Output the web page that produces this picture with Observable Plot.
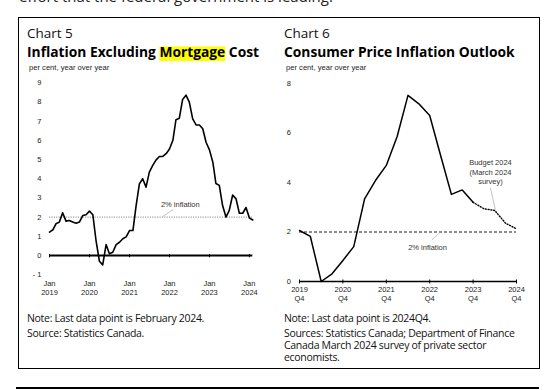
<!DOCTYPE html>
<html>
<head>
<meta charset="utf-8">
<script src="https://cdn.jsdelivr.net/npm/d3@7"></script>
<script src="https://cdn.jsdelivr.net/npm/@observablehq/plot@0.6"></script>
<style>
html,body{margin:0;padding:0;background:#fff;}
body{position:relative;width:553px;height:390px;overflow:hidden;}
#frame{position:absolute;left:18px;top:17px;width:522px;height:352px;border:1.5px solid #000;box-sizing:border-box;}
#rule{position:absolute;left:16px;top:387px;width:523px;height:1.5px;background:#000;}
#left{position:absolute;left:0;top:0;}
#right{position:absolute;left:275px;top:0;}
#overlay{position:absolute;left:0;top:0;}
.note{position:absolute;font-family:'Open Sans','Noto Sans',sans-serif;font-size:10.5px;line-height:12px;
  letter-spacing:-0.3px;color:#111;white-space:nowrap;}
</style>
</head>
<body>
<div id="frame"></div>
<div id="rule"></div>
<svg id="overlay" width="553" height="390"></svg>
<div id="left"></div>
<div id="right"></div>
<script>
// ---------- Chart 5 data (monthly, Jan 2019 – Feb 2024) ----------
const chart5Start = [2019, 0];
const cpiExMortgage = [
  1.22, 1.34, 1.65, 1.74, 2.22, 1.79, 1.82, 1.74, 1.68, 1.74, 2.08, 2.12,
  2.31, 2.12, 0.78, -0.30, -0.49, 0.57, 0.09, 0.17, 0.57, 0.69, 0.87, 0.97,
  1.30, 1.30, 2.55, 3.73, 4.00, 3.56, 4.34, 4.69, 4.98, 5.16, 5.16, 5.30,
  5.55, 6.00, 7.07, 7.15, 8.13, 8.35, 7.99, 7.12, 6.80, 6.80, 6.60, 5.90,
  5.50, 4.86, 3.75, 3.65, 2.60, 2.00, 2.35, 3.15, 2.95, 2.20, 2.20, 2.50,
  1.95, 1.85
];
const chart5TickYears = [2019, 2020, 2021, 2022, 2023, 2024];
const chart5YTicks = [-1, 0, 1, 2, 3, 4, 5, 6, 7, 8, 9];
const chart5Target = [2];
const chart5Label = [{date: [2022, 3, 10], value: 2.66, text: "2% inflation"}];
const chart5Leader = [{d1: [2022, 1, 5], v1: 2.4, d2: [2021, 9, 28], v2: 2.02}];

// ---------- Chart 6 data (quarterly, 2019Q4 – 2024Q4) ----------
const chart6StartYear = 2019;
const cpiActual = [2.06, 1.82, 0.00, 0.31, 0.85, 1.41, 3.34, 4.08, 4.69, 5.86, 7.52, 7.18, 6.71, 5.10, 3.52, 3.70, 3.20];
const cpiForecast = [3.20, 2.94, 2.87, 2.35, 2.13]; // 2023Q4 – 2024Q4
const chart6TickQuarters = [0, 4, 8, 12, 16, 20];
const chart6YTicks = [0, 2, 4, 6, 8];
const chart6Target = [2];
const chart6Labels = [
  {q: 11.8, value: 1.39, text: "2% inflation"},
  {q: 17.6, value: 4.44, text: "Budget 2024\n(March 2024\nsurvey)"}
];
const chart6Leaders = [
  {q1: 13.0, v1: 2.0, q2: 12.2, v2: 1.68},
  {q1: 17.6, v1: 3.78, q2: 18.05, v2: 2.9}
];

// ---------- Text ----------
const topText = "effort that the federal government is leading.";
const chartNums = ["Chart 5", "Chart 6"];
const titles = [["Inflation Excluding ", "Mortgage", " Cost"], ["Consumer Price Inflation Outlook"]];
const subtitles = ["per cent, year over year", "per cent, year over year"];
const notes = [
  [["Note: Last data point is February 2024."], ["Source: Statistics Canada."]],
  [["Note: Last data point is 2024Q4."], ["Sources: Statistics Canada; Department of Finance", "Canada March 2024 survey of private sector", "economists."]]
];

const U = (a) => new Date(Date.UTC(a[0], a[1], a[2] || 1));
const axisFont = "'Liberation Sans', Arial, sans-serif";

// ---------- Chart 5 ----------
const monthly = cpiExMortgage.map((v, i) => ({date: new Date(Date.UTC(chart5Start[0], chart5Start[1] + i, 1)), value: v}));
const c5Ticks = chart5TickYears.map(y => new Date(Date.UTC(y, 0, 1)));
const W5 = 280, H5 = 310;
const left = Plot.plot({
  width: W5, height: H5,
  marginLeft: 49, marginRight: W5 - 252.3, marginTop: 82.2, marginBottom: H5 - 274.2,
  style: {fontFamily: axisFont, fontSize: "7.5px", color: "#222", background: "transparent", overflow: "visible"},
  x: {type: "utc", domain: [monthly[0].date, monthly[monthly.length - 1].date], axis: null},
  y: {domain: [-1, 9], axis: null},
  marks: [
    Plot.ruleY(chart5Target, {stroke: "#555", strokeWidth: 0.7, strokeDasharray: "1.2,1.2"}),
    Plot.ruleY([0], {stroke: "#000", strokeWidth: 1.8}),
    Plot.ruleX(c5Ticks, {y1: 0.05, y2: -0.12, stroke: "#000", strokeWidth: 1}),
    Plot.line(monthly, {x: "date", y: "value", stroke: "#000", strokeWidth: 1.6, strokeLinejoin: "round"}),
    Plot.link(chart5Leader, {x1: d => U(d.d1), y1: "v1", x2: d => U(d.d2), y2: "v2", stroke: "#aaa", strokeWidth: 0.7}),
    Plot.text(chart5Label, {x: d => U(d.date), y: "value", text: "text", fill: "#333", fontSize: 7.5}),
    Plot.axisY(chart5YTicks, {tickSize: 0, tickPadding: 8, fill: "#222",
      tickFormat: d => d < 0 ? "- " + Math.abs(d) : String(d)}),
    Plot.axisX(c5Ticks, {tickSize: 0, tickPadding: 4.5, fill: "#222", lineHeight: 1.2,
      tickFormat: d => "Jan\n" + d.getUTCFullYear(), label: null})
  ]
});
document.getElementById("left").append(left);

// ---------- Chart 6 ----------
const actual = cpiActual.map((v, i) => ({q: i, value: v}));
const forecast = cpiForecast.map((v, i) => ({q: cpiActual.length - 1 + i, value: v}));
const W6 = 265, H6 = 310;
const right = Plot.plot({
  width: W6, height: H6,
  marginLeft: 24, marginRight: 24, marginTop: 83, marginBottom: H6 - 281,
  style: {fontFamily: axisFont, fontSize: "7.5px", color: "#222", background: "transparent", overflow: "visible"},
  x: {domain: [0, 20], axis: null},
  y: {domain: [0, 8], axis: null},
  marks: [
    Plot.ruleY(chart6Target, {stroke: "#000", strokeWidth: 0.9, strokeDasharray: "3,2"}),
    Plot.ruleY([0], {stroke: "#000", strokeWidth: 1.5}),
    Plot.ruleX(chart6TickQuarters, {y1: 0.06, y2: -0.1, stroke: "#000", strokeWidth: 1}),
    Plot.line(actual, {x: "q", y: "value", stroke: "#000", strokeWidth: 1.5}),
    Plot.line(forecast, {x: "q", y: "value", stroke: "#000", strokeWidth: 1.4, strokeDasharray: "1,1.8"}),
    Plot.link(chart6Leaders, {x1: "q1", y1: "v1", x2: "q2", y2: "v2", stroke: "#aaa", strokeWidth: 0.7}),
    Plot.text(chart6Labels, {x: "q", y: "value", text: "text", fill: "#333", fontSize: 7.5, lineHeight: 1.25}),
    Plot.axisY(chart6YTicks, {tickSize: 0, tickPadding: 8.5, fill: "#222"}),
    Plot.axisX(chart6TickQuarters, {tickSize: 0, tickPadding: 4.5, fill: "#222", lineHeight: 1.2,
      tickFormat: d => (chart6StartYear + d / 4) + "\nQ4", label: null})
  ]
});
document.getElementById("right").append(right);

// ---------- Titles, subtitles ----------
const ov = d3.select("#overlay");
const bodyFont = "'Open Sans', 'Noto Sans', sans-serif";
ov.append("text").attr("x", 19).attr("y", 1.5).attr("font-family", bodyFont).attr("font-size", 15)
  .attr("fill", "#222").text(topText);
const xs = [27, 284];
[0, 1].forEach(k => {
  ov.append("text").attr("x", xs[k]).attr("y", 38).attr("font-family", bodyFont).attr("font-size", 13.5)
    .attr("fill", "#111").text(chartNums[k]);
  const t = ov.append("text").attr("x", xs[k]).attr("y", 57).attr("font-family", bodyFont)
    .attr("font-size", 13.8).attr("font-weight", "bold").attr("fill", "#000");
  titles[k].forEach(s => t.append("tspan").text(s));
  ov.append("text").attr("x", xs[k] + 2).attr("y", 70).attr("font-family", axisFont).attr("font-size", 7.6)
    .attr("fill", "#222").text(subtitles[k]);
  // notes (HTML blocks; first baseline at 322, second block first baseline at 337 / 336.5)
  const tops = k === 0 ? [312, 326.5] : [312, 327];
  notes[k].forEach((lines, i) => {
    const div = document.createElement("div");
    div.className = "note";
    div.style.left = xs[k] + "px";
    div.style.top = tops[i] + "px";
    lines.forEach((s, j) => { if (j) div.append(document.createElement("br")); div.append(s); });
    document.body.append(div);
  });
});
// highlight behind "Mortgage"
const t5 = ov.selectAll("text").filter(function() { return this.textContent.startsWith("Inflation"); }).node();
const startIdx = titles[0][0].length;
const p = t5.getStartPositionOfChar(startIdx);
const w = t5.getSubStringLength(startIdx, titles[0][1].length);
ov.insert("rect", "text").attr("x", p.x).attr("y", 46.5).attr("width", w).attr("height", 14.5).attr("fill", "#ffff00");
</script>
</body>
</html>
